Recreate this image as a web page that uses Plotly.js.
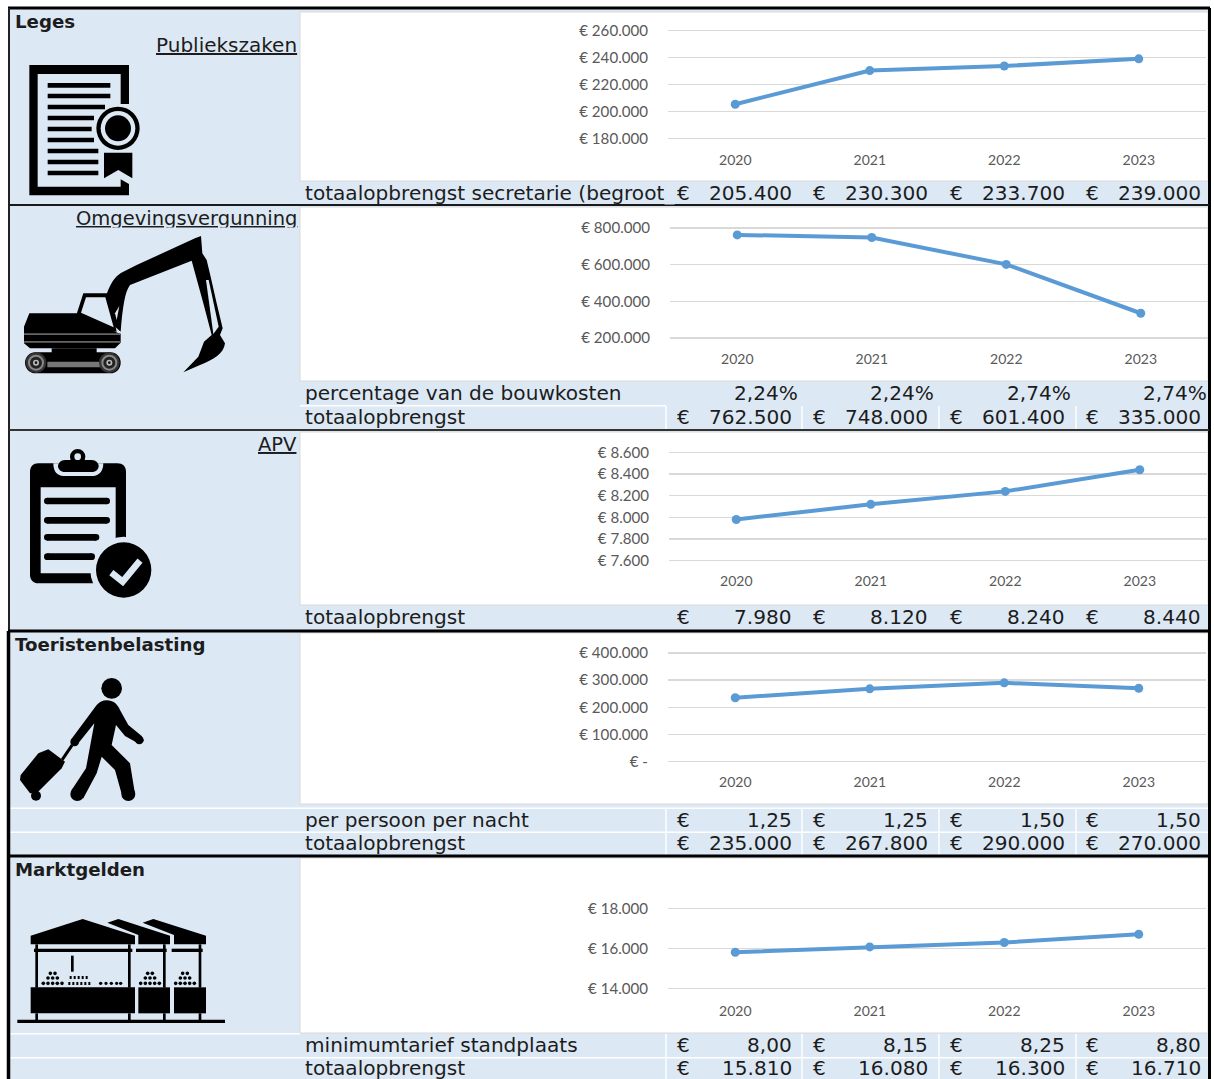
<!DOCTYPE html>
<html><head><meta charset="utf-8">
<script src="https://cdn.plot.ly/plotly-3.0.1.min.js"></script>
<style>html,body{margin:0;padding:0;background:#fff;overflow:hidden}#c{width:1214px;height:1079px}</style>
</head><body><div id="c"></div>
<script>
// ---------- data ----------
const years = ['2020','2021','2022','2023'];
const publiekszaken = [205400,230300,233700,239000];
const omgeving = [762500,748000,601400,335000];
const apv = [7980,8120,8240,8440];
const toerisme = [235000,267800,290000,270000];
const markt = [15810,16080,16300,16710];
const omgevingPct = ['2,24%','2,24%','2,74%','2,74%'];
const toerismeTarief = ['1,25','1,25','1,50','1,50'];
const marktTarief = ['8,00','8,15','8,25','8,80'];
const ticksPubliek = [180000,200000,220000,240000,260000];
const ticksOmgeving = [200000,400000,600000,800000];
const ticksApv = [7600,7800,8000,8200,8400,8600];
const ticksToerisme = [0,100000,200000,300000,400000];
const ticksMarkt = [14000,16000,18000];
const sectionTitles = ['Leges','Toeristenbelasting','Marktgelden'];
const subTitles = ['Publiekszaken','Omgevingsvergunning','APV'];
const labelTotaal = 'totaalopbrengst';
const labelSecretarie = 'totaalopbrengst secretarie (begroot)';
const labelPct = 'percentage van de bouwkosten';
const labelNacht = 'per persoon per nacht';
const labelStandplaats = 'minimumtarief standplaats';

// ---------- helpers ----------
const W=1214,H=1079,BG='#dce9f5',INK='#000000',TXT='#1c1c1c';
const nl=v=>String(v).replace(/\B(?=(\d{3})+(?!\d))/g,'.');
const euroTick=v=>v===0?'€ -':'€ '+nl(v);
const shapes=[],ann=[];
const px=x=>x/W, py=y=>1-y/H;
function rect(x0,y0,x1,y1,fill,layer,line){shapes.push({type:'rect',xref:'paper',yref:'paper',x0:px(x0),x1:px(x1),y0:py(y0),y1:py(y1),fillcolor:fill,line:line||{width:0},layer:layer||'below'});}
function hv(x0,y0,x1,y1,color,w){shapes.push({type:'line',xref:'paper',yref:'paper',x0:px(x0),x1:px(x1),y0:py(y0),y1:py(y1),line:{color:color,width:w},layer:'above'});}
function circ(cx,cy,r,fill){shapes.push({type:'circle',xref:'paper',yref:'paper',x0:px(cx-r),x1:px(cx+r),y0:py(cy-r),y1:py(cy+r),fillcolor:fill,line:{width:0},layer:'below'});}
function poly(d,ox,oy,s,fill){const p=d.replace(/(-?[\d.]+),(-?[\d.]+)/g,(m,a,b)=>(px(ox+a*s)).toFixed(6)+','+(py(oy+b*s)).toFixed(6));shapes.push({type:'path',xref:'paper',yref:'paper',path:p,fillcolor:fill||INK,line:{width:0},layer:'below'});}
function z(ox,oy){ // icon drawing in a 3x local space
  return {
    p:(d,f)=>poly(d,ox,oy,1/3,f),
    c:(x,y,r,f)=>circ(ox+x/3,oy+y/3,r/3,f||INK),
    r:(a,b,c,d,f)=>rect(ox+a/3,oy+b/3,ox+c/3,oy+d/3,f||INK),
    rl:(a,y,b,t,f)=>{rect(ox+a/3,oy+(y-t/2)/3,ox+b/3,oy+(y+t/2)/3,f||INK);circ(ox+a/3,oy+y/3,t/6,f||INK);circ(ox+b/3,oy+y/3,t/6,f||INK);}
  };
}
function text(x,y,t,o){o=o||{};ann.push({xref:'paper',yref:'paper',x:px(x),y:py(y),text:t,showarrow:false,xanchor:o.a||'left',yanchor:'middle',borderpad:0,
  font:{family:'"DejaVu Sans",sans-serif',size:o.s||20.1,color:TXT,weight:o.w||400,lineposition:o.u?'under':'none'}});}
function mask(x0,y0,x1,y1){ann.push({xref:'paper',yref:'paper',x:px((x0+x1)/2),y:py((y0+y1)/2),text:' ',showarrow:false,xanchor:'center',yanchor:'middle',width:x1-x0,height:y1-y0,bgcolor:BG,borderpad:0,font:{size:2}});}

// ---------- panel geometry ----------
const panels=[
 {v:publiekszaken,t:ticksPubliek,x0:668,x1:1206,top:30.5,bot:138.5,lab:22},
 {v:omgeving,t:ticksOmgeving,x0:670,x1:1208,top:228,bot:338,lab:21},
 {v:apv,t:ticksApv,x0:669,x1:1207,top:452.5,bot:560.5,lab:21},
 {v:toerisme,t:ticksToerisme,x0:668,x1:1206,top:653,bot:761.5,lab:21},
 {v:markt,t:ticksMarkt,x0:668,x1:1206,top:908.5,bot:988.5,lab:23}
];
const PAD=3;
const traces=[],layout={
  width:W,height:H,margin:{l:0,r:0,t:0,b:0,pad:0},paper_bgcolor:'#ffffff',plot_bgcolor:'rgba(0,0,0,0)',showlegend:false,
  shapes:shapes,annotations:ann,hovermode:false
};
panels.forEach((p,i)=>{
  const n=i+1,xa=n===1?'xaxis':'xaxis'+n,ya=n===1?'yaxis':'yaxis'+n;
  const lo=p.t[0],hi=p.t[p.t.length-1],u=(hi-lo)/(p.bot-p.top);
  traces.push({type:'scatter',mode:'lines+markers',x:years,y:p.v,xaxis:'x'+(n===1?'':n),yaxis:'y'+(n===1?'':n),
    line:{color:'#5b9bd5',width:4},marker:{color:'#5b9bd5',size:9},cliponaxis:false});
  layout[xa]={domain:[px(p.x0),px(p.x1)],anchor:'y'+(n===1?'':n),type:'category',categoryorder:'array',categoryarray:years,range:[-0.5,3.5],
    showgrid:false,zeroline:false,showline:false,ticks:'outside',ticklen:p.lab-16,tickcolor:'rgba(0,0,0,0)',
    tickfont:{family:'Lato,sans-serif',size:14,color:'#595959'},fixedrange:true};
  layout[ya]={domain:[py(p.bot+PAD),py(p.top-PAD)],anchor:'x'+(n===1?'':n),range:[lo-PAD*u,hi+PAD*u],tickvals:p.t,ticktext:p.t.map(euroTick),
    showgrid:true,gridcolor:'#d9d9d9',gridwidth:1.5,zeroline:false,showline:false,ticks:'outside',ticklen:16,tickcolor:'rgba(0,0,0,0)',
    tickfont:{family:'Lato,sans-serif',size:15.1,color:'#595959'},fixedrange:true};
});

// ---------- sheet backgrounds ----------
rect(9,8,1209,1079,BG);
[[12,181],[207,381],[432,605],[633,804],[858,1033]].forEach(a=>rect(300,a[0],1208,a[1],'#ffffff','below',{color:'#d9d9d9',width:1}));
// white cell separators
const sep=(y0,y1)=>[666,802,939,1076].forEach(x=>rect(x-0.7,y0,x+0.7,y1,'#ffffff'));
sep(406,430);sep(808,856);sep(1034,1079);
rect(300,405,666,406.5,'#ffffff');
rect(10,807.5,1209,809,'#ffffff');rect(10,831.5,1209,833,'#ffffff');
rect(10,1033,300,1034.5,'#ffffff');rect(10,1057,1209,1058.5,'#ffffff');

// ---------- frame ----------
hv(8,8,1210,8,INK,3);hv(9,8,9,631,'#222222',2);hv(8.5,631,8.5,1079,INK,3.5);hv(1209.5,8,1209.5,1079,INK,3);
hv(9,205,1209,205,'#1a1a1a',2);hv(9,430,1209,430,'#333333',2);
hv(8,631,1210,631,INK,3);hv(8,856,1210,856,INK,3);

// ---------- texts ----------
const TX=303.5;
text(13.5,21,sectionTitles[0],{w:700,s:18.2});
text(13.5,644,sectionTitles[1],{w:700,s:18.2});
text(13.5,869,sectionTitles[2],{w:700,s:18.2});
text(297.5,45,subTitles[0],{a:'right',u:true,s:20});
text(297.5,218,subTitles[1],{a:'right',u:true,s:19.5});
text(297.5,444,subTitles[2],{a:'right',u:true,s:19.5});
mask(74,228,298,232); // the row below clips the descenders of this heading
const euroX=[676,812,949,1085],numX=[793,929,1066,1202],pctX=[798.5,934.5,1071.5,1207.5];
function euroRow(y,vals){vals.forEach((v,i)=>{text(euroX[i],y,'€');text(numX[i],y,v,{a:'right'});});}
text(TX,193,labelSecretarie);
mask(665,183,674,204); // the cell boundary clips the end of this label
euroRow(193,publiekszaken.map(nl));
text(TX,393,labelPct);omgevingPct.forEach((v,i)=>text(pctX[i],393,v,{a:'right'}));
text(TX,417,labelTotaal);euroRow(417,omgeving.map(nl));
text(TX,617,labelTotaal);euroRow(617,apv.map(nl));
text(TX,820,labelNacht);euroRow(820,toerismeTarief);
text(TX,843,labelTotaal);euroRow(843,toerisme.map(nl));
text(TX,1045,labelStandplaats);euroRow(1045,marktTarief);
text(TX,1068,labelTotaal);euroRow(1068,markt.map(nl));

// ---------- icon: certificate ----------
(function(){const g=z(0,0);
 g.p('M88,195 L387,195 L387,312 L362,312 L362,222 L113,222 L113,560 L362,560 L362,538 L387,552 L387,586 L88,586 Z');
 [[143,331,256],[143,331,288],[143,315,321],[143,282,354],[143,275,387],[143,282,420],[143,295,453],[143,295,486],[143,295,519]].forEach(a=>g.r(a[0],a[2]-7,a[1],a[2]+7));
 g.c(354,385,65);g.c(354,385,52,BG);g.c(354,385,39);
 g.p('M312,458 L397,458 L397,535 L355,510 L312,535 Z');
})();
// ---------- icon: excavator ----------
(function(){const g=z(0,220);
 g.p('M88,280 L232,280 L345,335 L362,342 L362,368 L345,385 L90,385 L72,370 L72,320 Z');
 g.r(155,385,290,400);
 g.p('M107,397 L330,397 C350,397 362,412 362,428 C362,445 350,460 330,460 L107,460 C88,460 75,445 75,428 C75,412 88,397 107,397 Z');
 g.r(142,425,300,442,'#777777');
 g.r(72,340,362,345,'#666666');g.r(72,363,362,368,'#666666');
 [108,328].forEach(x=>{g.c(x,428,31,'#333333');g.c(x,428,24,'#888888');g.c(x,428,18,'#222222');g.c(x,428,9,'#bbbbbb');g.c(x,428,4,'#111111');});
 g.p('M230,282 L250,220 L325,220 L350,335 L340,335 Z');
 g.p('M243,278 L258,232 L316,232 L341,322 Z',BG);
 g.p('M320,222 C335,180 350,165 370,155 L410,135 L585,55 L603,48 L607,100 L620,120 L632,170 L650,250 L668,325 L660,345 L675,370 C672,400 640,420 600,435 L550,457 L595,410 L612,365 L635,345 L610,250 L575,122 L390,195 C375,215 368,260 362,335 L345,320 Z');
 g.p('M618,180 L626,180 L656,320 L640,342 Z',BG);
 g.p('M358,258 L350,300 L345,280 Z',BG);
})();
// ---------- icon: clipboard ----------
(function(){const g=z(0,430);
 g.p('M115,100 L352,100 C368,100 378,110 378,126 L378,434 C378,450 368,460 352,460 L115,460 C100,460 90,450 90,434 L90,126 C90,110 100,100 115,100 Z');
 g.r(122,172,347,430,BG);
 g.c(371,420,100,BG);
 g.p('M160,100 L310,100 C310,125 295,138 280,138 L190,138 C172,138 160,125 160,100 Z',BG);
 g.p('M195,90 L275,90 C288,90 296,100 296,108 C296,118 288,126 275,126 L195,126 C182,126 174,118 174,108 C174,100 182,90 195,90 Z');
 g.c(233,80,23);g.c(233,80,10,BG);
 g.rl(142,213,320,20);g.rl(142,271,320,20);g.rl(142,322,288,20);g.rl(142,380,275,20);
 g.c(371,420,83);
 shapes.push({type:'path',xref:'paper',yref:'paper',layer:'below',fillcolor:'rgba(0,0,0,0)',line:{color:BG,width:6.5},
  path:'M'+px(334/3)+','+py(430+428/3)+' L'+px(368/3)+','+py(430+455/3)+' L'+px(420/3)+','+py(430+392/3)});
})();
// ---------- icon: traveller ----------
(function(){const g=z(0,630);
 g.c(335,175,31);
 g.p('M320,211 C340,211 352,222 360,240 L385,285 L425,318 L431,332 L418,342 L375,318 L348,285 L335,345 L390,400 L405,492 L365,492 L345,420 L305,380 L290,430 L250,505 L215,480 L258,415 L283,280 L235,340 L218,345 L212,330 L290,225 C298,216 308,211 320,211 Z');
 g.c(232,492,21);g.c(385,492,21);g.c(418,330,13);g.c(224,336,13);
 g.p('M213,342 L220,348 L190,392 L183,386 Z');
 g.p('M115,370 L145,358 L195,395 L185,415 L110,490 L90,490 L60,450 L62,435 Z');
 g.c(108,497,15);
})();
// ---------- icon: market ----------
(function(){const g=z(0,855);
 g.p('M92,242 L248,192 L405,242 L405,268 L92,268 Z');
 g.p('M322,203 L355,192 L510,242 L510,268 L415,268 L415,240 Z');
 g.p('M428,203 L460,192 L618,242 L618,268 L522,268 L522,240 Z');
 g.r(102,281,397,291);g.r(408,281,500,291);g.r(515,281,608,291);
 [110,388,493,600].forEach(x=>{g.r(x-4,268,x+4,398);g.r(x-4,475,x+4,496);});
 g.r(92,397,405,475);g.r(415,397,510,475);g.r(522,397,618,475);
 g.r(52,494,675,504);
 g.r(213,302,221,350);
 [158,450,555].forEach(x=>{
  [[-7,7,355],[-14,0,14,369],[-28,-14,0,14,28,385]].forEach(row=>{const y=row[row.length-1];row.slice(0,-1).forEach(d=>g.c(x+d,y,5.5));});
 });
 [212,224,236,248,260].forEach(x=>g.r(x-3,363,x+3,372));
 [208,220,232,244,256,268].forEach(x=>g.r(x-3,381,x+3,390));
 [302,318,334,350,362].forEach(x=>g.c(x,385,5));
})();

Plotly.newPlot('c',traces,layout,{staticPlot:true,displayModeBar:false});
</script></body></html>
